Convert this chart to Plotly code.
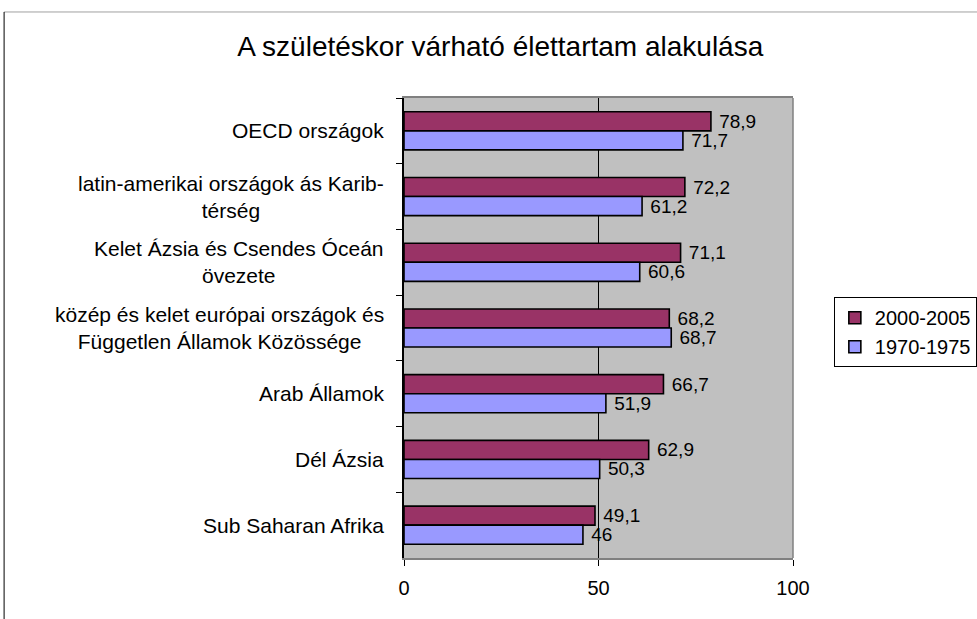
import plotly.graph_objects as go

categories = [
    "OECD országok",
    "latin-amerikai országok ás Karib-<br>térség",
    "Kelet Ázsia és Csendes Óceán<br>övezete",
    "közép és kelet európai országok és<br>Független Államok Közössége",
    "Arab Államok",
    "Dél Ázsia",
    "Sub Saharan Afrika",
]
cat_ids = ["c%d" % i for i in range(len(categories))]
series_names = ["2000-2005", "1970-1975"]
values_2000 = [78.9, 72.2, 71.1, 68.2, 66.7, 62.9, 49.1]
values_1970 = [71.7, 61.2, 60.6, 68.7, 51.9, 50.3, 46]
colors = ["#993366", "#9999FF"]
x_ticks = [0, 50, 100]
x_grid = [50]

FONT = "Liberation Sans, Arial, sans-serif"


def fmt(v):
    s = ("%g" % v).replace(".", ",")
    return "\u00a0" + s


fig = go.Figure()
for name, vals, col in zip(series_names, [values_2000, values_1970], colors):
    fig.add_trace(go.Bar(
        name=name,
        y=cat_ids,
        x=vals,
        orientation="h",
        marker=dict(color=col, line=dict(color="black", width=1.6)),
        text=[fmt(v) for v in vals],
        textposition="outside",
        textfont=dict(family=FONT, size=19, color="black"),
        constraintext="none",
        cliponaxis=False,
    ))

for cid, label in zip(cat_ids, categories):
    fig.add_annotation(
        x=0, xref="paper", y=cid, yref="y",
        text=label, showarrow=False,
        xanchor="right", yanchor="middle", align="center",
        xshift=-18,
        font=dict(family=FONT, size=21, color="black"),
    )

# right border of the plot area (gray)
fig.add_shape(type="line", xref="paper", yref="paper",
              x0=1, x1=1, y0=0, y1=1, layer="above",
              line=dict(color="#808080", width=1.5))
# outer frame of the original picture
fig.add_shape(type="line", xref="paper", yref="paper",
              x0=-1.028, x1=1.6, y0=1.187, y1=1.187,
              line=dict(color="#A0A0A0", width=1))
fig.add_shape(type="line", xref="paper", yref="paper",
              x0=-1.028, x1=-1.028, y0=-0.2, y1=1.187,
              line=dict(color="black", width=1))

fig.update_layout(
    width=977, height=619,
    margin=dict(l=404, r=184, t=98, b=61, autoexpand=False),
    paper_bgcolor="white",
    plot_bgcolor="#C0C0C0",
    barmode="group",
    bargap=0.42,
    bargroupgap=0,
    font=dict(family=FONT, size=20, color="black"),
    title=dict(
        text="A születéskor várható élettartam alakulása",
        x=0.512, xref="container", xanchor="center",
        y=1 - 46 / 619, yref="container", yanchor="middle",
        font=dict(family=FONT, size=28, color="black"),
    ),
    legend=dict(
        x=1.105, y=0.567, xanchor="left", yanchor="top",
        bordercolor="black", borderwidth=1, bgcolor="white",
        font=dict(family=FONT, size=20, color="black"),
        traceorder="normal",
        tracegroupgap=0,
    ),
    showlegend=True,
)

fig.update_xaxes(
    range=[0, 100],
    tickvals=x_ticks,
    ticktext=[str(t) for t in x_ticks],
    showgrid=False,
    minor=dict(tickmode="array", tickvals=x_grid, showgrid=True,
               gridcolor="black", gridwidth=1, ticks=""),
    zeroline=False,
    showline=True, linecolor="#808080", linewidth=1.5, mirror=True,
    ticks="outside", ticklen=6, tickcolor="black",
    ticklabelstandoff=5,
    tickfont=dict(family=FONT, size=20, color="black"),
)
fig.update_yaxes(
    type="category",
    categoryorder="array", categoryarray=cat_ids,
    autorange="reversed",
    showticklabels=False,
    tickson="boundaries",
    ticks="outside", ticklen=6, tickcolor="black",
    showgrid=False,
    showline=True, linecolor="black", linewidth=1.5, mirror=False,
)

fig.write_html(
    "out.html",
    config={"displayModeBar": False},
    post_script="document.body.style.margin='0';document.body.style.overflow='hidden';",
)
